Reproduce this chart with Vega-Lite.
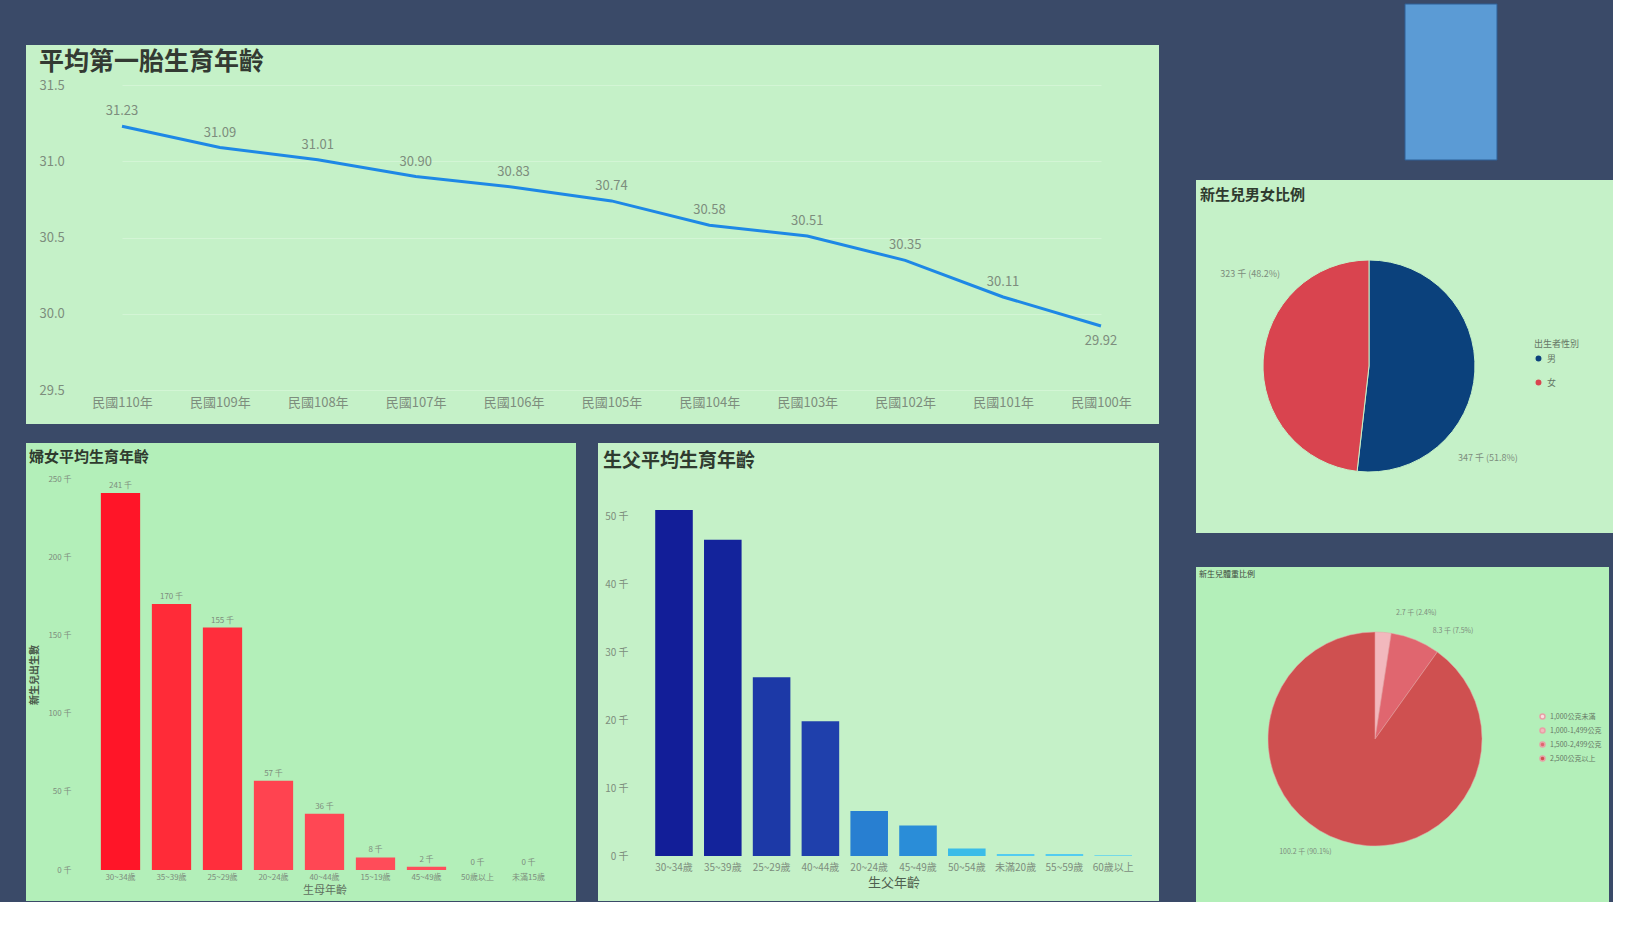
{
  "$schema": "https://vega.github.io/schema/vega-lite/v6.json",
  "background": "#3a4a68",
  "padding": {"left": 26, "top": 3, "right": 0, "bottom": 0},
  "config": {
    "font": "Noto Sans CJK TC",
    "view": {"stroke": null},
    "axis": {"labelFont": "Noto Sans CJK TC", "titleFont": "Noto Sans CJK TC"},
    "title": {"font": "Noto Sans CJK TC"}
  },
  "spacing": 37,
  "resolve": {"scale": {"color": "independent"}, "legend": {"color": "independent"}},
  "hconcat": [
    {
      "spacing": 19,
      "resolve": {"scale": {"color": "independent"}, "legend": {"color": "independent"}},
      "vconcat": [
        {
          "width": 1133,
          "height": 22,
          "data": {"values": [{}]},
          "mark": {"type": "text"},
          "encoding": {"text": {"value": " "}}
        },
        {
          "width": 1133,
          "height": 379,
          "view": {"fill": "#c5f1c8", "stroke": null},
          "title": {"text": "平均第一胎生育年齡", "anchor": "start", "frame": "group", "dx": 13, "offset": -30, "fontSize": 25, "fontWeight": "bold", "color": "#333a33"},
          "data": {"values": [
            {"year": "民國110年", "age": 31.23},
            {"year": "民國109年", "age": 31.09},
            {"year": "民國108年", "age": 31.01},
            {"year": "民國107年", "age": 30.90},
            {"year": "民國106年", "age": 30.83},
            {"year": "民國105年", "age": 30.74},
            {"year": "民國104年", "age": 30.58},
            {"year": "民國103年", "age": 30.51},
            {"year": "民國102年", "age": 30.35},
            {"year": "民國101年", "age": 30.11},
            {"year": "民國100年", "age": 29.92}
          ]},
          "encoding": {
            "x": {"field": "year", "type": "ordinal", "sort": null,
                  "scale": {"type": "point", "range": [96, 1075], "padding": 0},
                  "axis": {"orient": "bottom", "offset": -30, "domain": false, "ticks": false, "labelPadding": 2, "labelAngle": 0, "labelColor": "#7d8d7d", "labelFontSize": 13, "title": null}},
            "y": {"field": "age", "type": "quantitative",
                  "scale": {"domain": [29.5, 31.5], "range": [345, 40]},
                  "axis": {"values": [29.5, 30, 30.5, 31, 31.5], "format": ".1f", "offset": -13, "labelAlign": "left", "labelPadding": 0, "ticks": false, "domain": false, "grid": true, "gridColor": "#d3f5d5", "labelColor": "#7d8d7d", "labelFontSize": 13, "title": null}}
          },
          "layer": [
            {"mark": {"type": "line", "color": "#1e88e5", "strokeWidth": 3}},
            {"transform": [{"filter": "datum.year != '民國100年'"}],
             "mark": {"type": "text", "dy": -15, "fontSize": 13, "color": "#7d8d7d"},
             "encoding": {"text": {"field": "age", "type": "quantitative", "format": ".2f"}}},
            {"transform": [{"filter": "datum.year == '民國100年'"}],
             "mark": {"type": "text", "dy": 15, "fontSize": 13, "color": "#7d8d7d"},
             "encoding": {"text": {"field": "age", "type": "quantitative", "format": ".2f"}}}
          ]
        },
        {
          "spacing": 22,
          "resolve": {"scale": {"color": "independent"}, "legend": {"color": "independent"}},
          "hconcat": [
            {
              "width": 550,
              "height": 458,
              "view": {"fill": "#b3efb9", "stroke": null},
              "title": {"text": "婦女平均生育年齡", "anchor": "start", "frame": "group", "dx": 3, "offset": -22, "fontSize": 15, "fontWeight": "bold", "color": "#2f3a2f"},
              "data": {"values": [
                {"age": "30~34歲", "v": 241},
                {"age": "35~39歲", "v": 170},
                {"age": "25~29歲", "v": 155},
                {"age": "20~24歲", "v": 57},
                {"age": "40~44歲", "v": 36},
                {"age": "15~19歲", "v": 8},
                {"age": "45~49歲", "v": 2},
                {"age": "50歲以上", "v": 0},
                {"age": "未滿15歲", "v": 0}
              ]},
              "transform": [{"calculate": "datum.v + ' 千'", "as": "lbl"}],
              "encoding": {
                "x": {"field": "age", "type": "nominal", "sort": null,
                      "scale": {"range": [69, 528], "paddingInner": 0.23, "paddingOuter": 0.115},
                      "axis": {"orient": "bottom", "offset": -31, "domain": false, "ticks": false, "labelPadding": 3, "labelAngle": 0, "labelColor": "#7d8d7d", "labelFontSize": 8, "title": "生母年齡", "titleFontSize": 11, "titleFontWeight": "normal", "titleColor": "#607060", "titlePadding": 3}},
                "y": {"field": "v", "type": "quantitative",
                      "scale": {"domain": [0, 250], "range": [427, 36]},
                      "axis": {"values": [0, 50, 100, 150, 200, 250], "labelExpr": "datum.value + ' 千'", "offset": -47, "labelPadding": 2, "ticks": false, "domain": false, "grid": false, "labelColor": "#7d8d7d", "labelFontSize": 8, "title": "新生兒出生數", "titleFontSize": 10, "titleFontWeight": "bold", "titleColor": "#4a5a4a", "titlePadding": 8}}
              },
              "layer": [
                {"mark": {"type": "bar"},
                 "encoding": {"color": {"field": "v", "type": "quantitative", "scale": {"domain": [0, 241], "range": ["#ff4d5b", "#ff1528"]}, "legend": null}}},
                {"mark": {"type": "text", "dy": -7, "fontSize": 8, "color": "#7d8d7d"},
                 "encoding": {"text": {"field": "lbl", "type": "nominal"}}}
              ]
            },
            {
              "width": 561,
              "height": 458,
              "view": {"fill": "#c5f1c8", "stroke": null},
              "title": {"text": "生父平均生育年齡", "anchor": "start", "frame": "group", "dx": 5, "offset": -28, "fontSize": 19, "fontWeight": "bold", "color": "#2f3a2f"},
              "data": {"values": [
                {"age": "30~34歲", "v": 50.9},
                {"age": "35~39歲", "v": 46.5},
                {"age": "25~29歲", "v": 26.3},
                {"age": "40~44歲", "v": 19.8},
                {"age": "20~24歲", "v": 6.6},
                {"age": "45~49歲", "v": 4.5},
                {"age": "50~54歲", "v": 1.1},
                {"age": "未滿20歲", "v": 0.3},
                {"age": "55~59歲", "v": 0.3},
                {"age": "60歲以上", "v": 0.1}
              ]},
              "mark": {"type": "bar"},
              "encoding": {
                "x": {"field": "age", "type": "nominal", "sort": null,
                      "scale": {"range": [51.6, 539.6], "paddingInner": 0.23, "paddingOuter": 0.115},
                      "axis": {"orient": "bottom", "offset": -45, "domain": false, "ticks": false, "labelPadding": 6, "labelAngle": 0, "labelColor": "#7d8d7d", "labelFontSize": 10, "title": "生父年齡", "titleFontSize": 13, "titleFontWeight": "normal", "titleColor": "#4f5f4f", "titlePadding": 4}},
                "y": {"field": "v", "type": "quantitative",
                      "scale": {"domain": [0, 55], "range": [413, 39]},
                      "axis": {"values": [0, 10, 20, 30, 40, 50], "labelExpr": "datum.value + ' 千'", "offset": -32, "labelPadding": 2, "ticks": false, "domain": false, "grid": false, "labelColor": "#7d8d7d", "labelFontSize": 10, "title": null}},
                "color": {"field": "v", "type": "quantitative", "scale": {"domain": [0, 1, 5, 20, 51], "range": ["#5dd3f3", "#3cbde8", "#2e86d4", "#1f3fab", "#121e98"]}, "legend": null}
              }
            }
          ]
        }
      ]
    },
    {
      "spacing": 34,
      "resolve": {"scale": {"color": "independent"}, "legend": {"color": "independent"}},
      "vconcat": [
        {
          "spacing": 19,
          "resolve": {"scale": {"color": "independent"}, "legend": {"color": "independent"}},
          "vconcat": [
            {
              "width": 417,
              "height": 156,
              "data": {"values": [{"k": "a", "v": 1}]},
              "mark": {"type": "bar", "color": "#5b9bd5", "stroke": "#2f5f95", "strokeWidth": 1},
              "encoding": {
                "x": {"field": "k", "type": "nominal", "scale": {"range": [209, 301], "paddingInner": 0, "paddingOuter": 0}, "axis": null},
                "y": {"field": "v", "type": "quantitative", "scale": {"domain": [0, 1]}, "axis": null}
              }
            },
            {
              "width": 417,
              "height": 353,
              "view": {"fill": "#c5f1c8", "stroke": null},
              "title": {"text": "新生兒男女比例", "anchor": "start", "frame": "group", "dx": 4, "offset": -23, "fontSize": 15, "fontWeight": "bold", "color": "#2f3a2f"},
              "data": {"values": [
                {"sex": "男", "v": 347},
                {"sex": "女", "v": 323}
              ]},
              "transform": [
                {"joinaggregate": [{"op": "sum", "field": "v", "as": "total"}]},
                {"calculate": "datum.v + ' 千 (' + format(datum.v / datum.total * 100, '.1f') + '%)'", "as": "lbl"}
              ],
              "encoding": {
                "theta": {"field": "v", "type": "quantitative", "stack": true},
                "order": {"field": "sex", "sort": "descending"}
              },
              "layer": [
                {"mark": {"type": "arc", "x": 173, "y": 186, "radius": 106, "stroke": "#c5f1c8", "strokeWidth": 1},
                 "encoding": {"color": {"field": "sex", "type": "nominal", "scale": {"domain": ["男", "女"], "range": ["#0b417c", "#d9444f"]},
                   "legend": {"orient": "none", "legendX": 338, "legendY": 160, "title": "出生者性別", "titleFontSize": 9, "titleFontWeight": "normal", "titleColor": "#667766", "labelFontSize": 9, "labelColor": "#667766", "symbolType": "circle", "symbolSize": 55, "rowPadding": 9}}}},
                {"mark": {"type": "text", "x": 173, "y": 186, "radius": 150, "thetaOffset": 0.6, "fontSize": 9, "color": "#7d8d7d"},
                 "encoding": {"text": {"field": "lbl", "type": "nominal"}}}
              ]
            }
          ]
        },
        {
          "width": 413,
          "height": 335,
          "view": {"fill": "#b3efb9", "stroke": null},
          "title": {"text": "新生兒體重比例", "anchor": "start", "frame": "group", "dx": 3, "offset": -12, "fontSize": 8, "fontWeight": "normal", "color": "#3f4a3f"},
          "data": {"values": [
            {"w": "1,000-1,499公克", "v": 2.7},
            {"w": "1,500-2,499公克", "v": 8.3},
            {"w": "2,500公克以上", "v": 100.2}
          ]},
          "transform": [
            {"joinaggregate": [{"op": "sum", "field": "v", "as": "total"}]},
            {"calculate": "datum.v + ' 千 (' + format(datum.v / datum.total * 100, '.1f') + '%)'", "as": "lbl"}
          ],
          "encoding": {
            "theta": {"field": "v", "type": "quantitative", "stack": true},
            "order": {"field": "w", "sort": "ascending"}
          },
          "layer": [
            {"mark": {"type": "arc", "x": 179, "y": 172, "radius": 107, "stroke": "#e8a0a6", "strokeWidth": 0.5},
             "encoding": {"color": {"field": "w", "type": "nominal",
               "scale": {"domain": ["1,000公克未滿", "1,000-1,499公克", "1,500-2,499公克", "2,500公克以上"], "range": ["#f9e0e2", "#f2b8bd", "#e0666f", "#cf5050"]},
               "legend": {"orient": "none", "legendX": 343, "legendY": 146, "title": null, "labelFontSize": 7, "labelColor": "#667766", "symbolType": "circle", "symbolSize": 25, "rowPadding": 3}}}},
            {"mark": {"type": "text", "x": 179, "y": 172, "radius": 133, "thetaOffset": 0.24, "fontSize": 7, "color": "#7d8d7d"},
             "encoding": {"text": {"field": "lbl", "type": "nominal"}}}
          ]
        }
      ]
    }
  ]
}
